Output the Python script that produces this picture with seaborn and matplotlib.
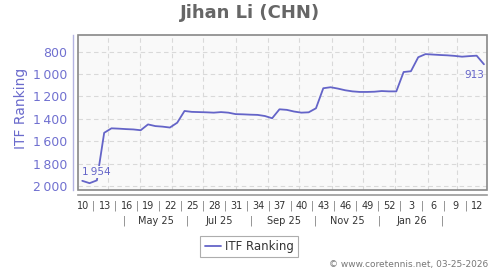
import numpy as np
import pandas as pd
import matplotlib
matplotlib.use("Agg")
import matplotlib.pyplot as plt
import matplotlib.dates as mdates
from matplotlib.patches import Rectangle
import seaborn as sns

# ---------------- data ----------------
start_date = "2025-03-07"
ranking = [1954, 1975, 1950, 1525, 1485, 1488, 1492, 1495, 1502, 1450,
           1465, 1470, 1478, 1435, 1330, 1338, 1340, 1342, 1345, 1340,
           1345, 1358, 1360, 1363, 1365, 1375, 1395, 1315, 1320, 1335,
           1345, 1342, 1306, 1127, 1118, 1130, 1145, 1155, 1160, 1160,
           1158, 1152, 1155, 1155, 982, 975, 850, 822, 826, 830,
           833, 838, 845, 840, 836, 913]
week_labels = ["10", "13", "16", "19", "22", "25", "28", "31", "34", "37",
               "40", "43", "46", "49", "52", "3", "6", "9", "12"]
month_labels = ["May 25", "Jul 25", "Sep 25", "Nov 25", "Jan 26"]
y_ticks = [800, 1000, 1200, 1400, 1600, 1800, 2000]
y_tick_labels = ["800", "1\u2009000", "1\u2009200", "1\u2009400", "1\u2009600",
                 "1\u2009800", "2\u2009000"]
first_label = "1\u2009954"
last_label = "913"
title = "Jihan Li (CHN)"
series_name = "ITF Ranking"
credit = "\u00a9 www.coretennis.net, 03-25-2026"

dates = pd.date_range(start_date, periods=len(ranking), freq="7D")
df = pd.DataFrame({"date": dates, "rank": ranking})

sns.set_style("white")
plt.rcParams["font.family"] = ["DejaVu Sans"]

W, H = 500, 270
fig = plt.figure(figsize=(5, 2.7), dpi=100)
ax = fig.add_axes([78.3 / W, 1 - 190 / H, 409 / W, 154.7 / H])
ax.set_facecolor("#f9f9f9")

line_color = "#6464c8"
sns.lineplot(data=df, x="date", y="rank", ax=ax, color=line_color,
             lw=1.3, label=series_name, zorder=3)

t0 = mdates.date2num(pd.Timestamp(start_date))
ax.set_xlim(t0 - 3.8, t0 + 385 + 3.2)
ax.set_ylim(2036, 654)

# grid
grid_kw = dict(color="#d9d9d9", lw=0.8, ls=(0, (4, 3)), zorder=0)
month_starts = pd.date_range("2025-04-01", "2026-03-01", freq="MS")
for m in month_starts:
    ax.axvline(mdates.date2num(m), **grid_kw)
for v in y_ticks:
    ax.axhline(v, **grid_kw)

# spines
for s in ["top", "right"]:
    ax.spines[s].set_visible(False)
ax.spines["left"].set_position(("outward", 3.6))
ax.spines["bottom"].set_position(("outward", 3.6))
ax.spines["left"].set_color("#b4b4e2")
ax.spines["left"].set_linewidth(1.0)
ax.spines["bottom"].set_color("#999999")
ax.spines["bottom"].set_linewidth(1.2)
ax.add_patch(Rectangle((0, 0), 1, 1, transform=ax.transAxes, fill=False,
                       ec="#888888", lw=1.2, clip_on=False, zorder=6))

# y axis
ax.set_yticks(y_ticks, y_tick_labels)
ax.tick_params(axis="y", length=3, width=1, color="#b4b4e2",
               labelcolor="#7070d0", labelsize=9, pad=1.5)
ax.set_ylabel("")

# x axis: week labels as ticks
label_pos = [t0 + 0.5 + 21 * k for k in range(len(week_labels))]
ax.set_xticks(label_pos, week_labels)
ax.tick_params(axis="x", length=0, labelsize=7, labelcolor="#333333", pad=4.5)
sep_pos = [t0 + 11 + 21 * k for k in range(len(week_labels) - 1)]
ax.set_xticks(sep_pos, minor=True)
ax.tick_params(axis="x", which="minor", length=2, width=0.8, color="#aaaaaa")
ax.set_xlabel("")
xt = ax.get_xaxis_transform()
for p in sep_pos:
    ax.text(p, (190 - 205.5) / 154.7, "|", transform=xt, ha="center",
            va="center", fontsize=7, color="#777777", clip_on=False)

# month row
mstarts = pd.date_range("2025-04-01", "2026-04-01", freq="MS")
mids = [(mdates.date2num(mstarts[i]) + mdates.date2num(mstarts[i + 1])) / 2
        for i in range(len(mstarts) - 1)]
ym = (190 - 221) / 154.7
for i, lab in enumerate(month_labels):
    ax.text(mids[1 + 2 * i], ym, lab, transform=xt, ha="center", va="center",
            fontsize=7, color="#333333", clip_on=False)
for i in range(6):
    ax.text(mids[2 * i], ym, "|", transform=xt, ha="center", va="center",
            fontsize=7, color="#777777", clip_on=False)

# point labels
ax.annotate(first_label, xy=(mdates.date2num(dates[0]), ranking[0]),
            xytext=(0, 2.5), textcoords="offset points", ha="left",
            va="bottom", fontsize=7.5, color=line_color, zorder=4,
            bbox=dict(boxstyle="square,pad=0.1", fc="#f9f9f9", ec="none"))
ax.annotate(last_label, xy=(mdates.date2num(dates[-1]), ranking[-1]),
            xytext=(0, -4), textcoords="offset points", ha="right",
            va="top", fontsize=7.5, color=line_color, zorder=4)

# legend
leg = ax.legend(loc="center", bbox_to_anchor=(249 / W, 1 - 246.5 / H),
                bbox_transform=fig.transFigure, frameon=True, fancybox=False,
                edgecolor="#999999", fontsize=8.5, handlelength=1.4,
                handletextpad=0.3, borderpad=0.35, borderaxespad=0)
leg.get_frame().set_linewidth(0.8)
for t in leg.get_texts():
    t.set_color("#333333")

# titles
fig.text(0.5, 1 - 12.5 / H, title, ha="center", va="center", fontsize=13,
         fontweight="bold", color="#666666")
fig.text(21 / W, 1 - 108 / H, "ITF Ranking", rotation=90, ha="center",
         va="center", fontsize=10, color="#6a6acc")
fig.text(488 / W, 1 - 265 / H, credit, ha="right", va="center",
         fontsize=6.5, color="#777777")

fig.savefig("out.png", dpi=100)
